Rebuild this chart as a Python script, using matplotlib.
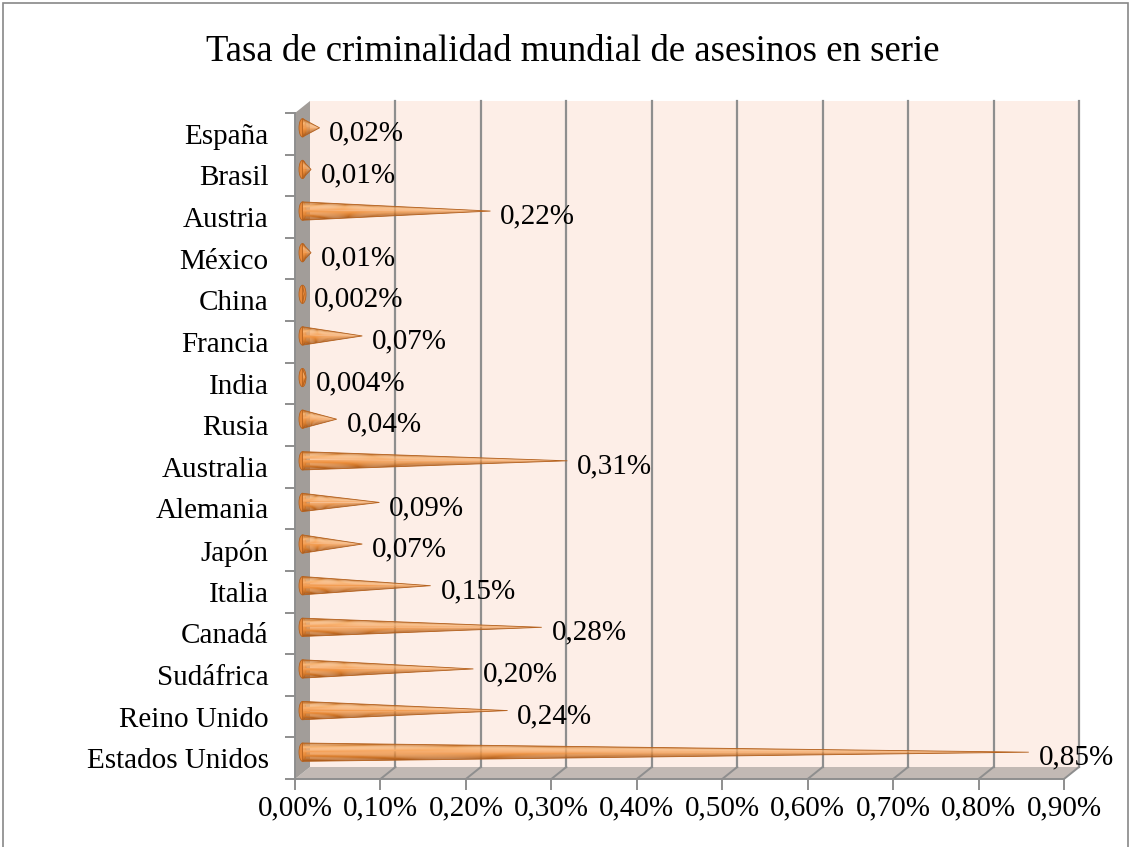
import numpy as np
import matplotlib
matplotlib.use("Agg")
import matplotlib.pyplot as plt
from matplotlib.patches import Polygon, Ellipse, Rectangle
from matplotlib.colors import LinearSegmentedColormap

paises = ["España", "Brasil", "Austria", "México", "China", "Francia", "India",
          "Rusia", "Australia", "Alemania", "Japón", "Italia", "Canadá",
          "Sudáfrica", "Reino Unido", "Estados Unidos"]
tasas = [0.02, 0.01, 0.22, 0.01, 0.002, 0.07, 0.004, 0.04, 0.31, 0.09, 0.07,
         0.15, 0.28, 0.20, 0.24, 0.85]
etiquetas = ["0,02%", "0,01%", "0,22%", "0,01%", "0,002%", "0,07%", "0,004%",
             "0,04%", "0,31%", "0,09%", "0,07%", "0,15%", "0,28%", "0,20%",
             "0,24%", "0,85%"]
xticks = [0.0, 0.1, 0.2, 0.3, 0.4, 0.5, 0.6, 0.7, 0.8, 0.9]
xticklabels = ["0,00%", "0,10%", "0,20%", "0,30%", "0,40%", "0,50%", "0,60%",
               "0,70%", "0,80%", "0,90%"]

plt.rcParams['font.family'] = ['Liberation Serif', 'DejaVu Serif']

W, H = 1131, 847
fig = plt.figure(figsize=(W / 100, H / 100), dpi=100)
fig.patch.set_facecolor('white')

# front plane of the pseudo-3D chart, in pixels
x0, x1, ytop, ybot = 295, 1064, 113, 779
ax = fig.add_axes([x0 / W, 1 - ybot / H, (x1 - x0) / W, (ybot - ytop) / H])
n = len(paises)
xmax = 0.9
ax.set_xlim(0, xmax)
ax.set_ylim(n - 0.5, -0.5)
ax.set_facecolor('none')

# depth offset (15 px right, 12 px up) in data units
px_x = xmax / (x1 - x0)
px_y = n / (ybot - ytop)
DX = 15 * px_x
DY = -12 * px_y

wall_col = '#FDEEE7'
grid_col = '#8E8E8E'
fs = 21

# back wall
ax.add_patch(Rectangle((DX, -0.5 + DY), xmax, n, facecolor=wall_col,
                       edgecolor='none', clip_on=False, zorder=0))
# floor
ax.add_patch(Polygon([(0, n - 0.5), (xmax, n - 0.5), (xmax + DX, n - 0.5 + DY),
                      (DX, n - 0.5 + DY)], closed=True, facecolor='#C2B9B4',
                     edgecolor='none', clip_on=False, zorder=0.5))
# left wall
ax.add_patch(Polygon([(0, -0.5), (0, n - 0.5), (DX, n - 0.5 + DY), (DX, -0.5 + DY)],
                     closed=True, facecolor='#A29D99', edgecolor='none',
                     clip_on=False, zorder=0.5))

for v in xticks[1:]:
    ax.plot([v + DX, v + DX], [-0.5 + DY, n - 0.5 + DY], color=grid_col, lw=1.6,
            clip_on=False, zorder=1)
    ax.plot([v, v + DX], [n - 0.5, n - 0.5 + DY], color=grid_col, lw=1.4,
            clip_on=False, zorder=1)

# cones
cmap = LinearSegmentedColormap.from_list(
    'cono', ['#B9661F', '#F9B97A', '#F7A964', '#EE9140', '#D0772A', '#A5571A'])
hh = 0.22
nstrip = 14
for i, (v, lab) in enumerate(zip(tasas, etiquetas)):
    yc = i + DY / 2
    xb = DX / 2
    xt = v + DX / 2
    edges = np.linspace(yc - hh, yc + hh, nstrip + 1)
    for k in range(nstrip):
        ax.add_patch(Polygon([(xb, edges[k]), (xb, edges[k + 1]), (xt, yc)],
                             closed=True, facecolor=cmap((k + 0.5) / nstrip),
                             edgecolor='none', clip_on=False, zorder=3))
    ax.add_patch(Polygon([(xb, yc - hh), (xb, yc + hh), (xt, yc)], closed=True,
                         facecolor='none', edgecolor='#B5621F', lw=0.6,
                         clip_on=False, zorder=3.5))
    ax.add_patch(Ellipse((xb, yc), 7 * px_x, 2 * hh, facecolor='#E8893A',
                         edgecolor='#B5621F', lw=0.6, clip_on=False, zorder=2.9))
    ax.annotate(lab, (xt, yc), xytext=(7, -4), textcoords='offset points',
                ha='left', va='center', fontsize=fs, zorder=5,
                annotation_clip=False)

# axes
for s in ['top', 'right']:
    ax.spines[s].set_visible(False)
for s in ['left', 'bottom']:
    ax.spines[s].set_color(grid_col)
    ax.spines[s].set_linewidth(1.4)
    ax.spines[s].set_zorder(2)

ax.set_yticks(range(n))
ax.set_yticklabels(paises, fontsize=fs)
ax.set_yticks(np.arange(-0.5, n, 1.0), minor=True)
ax.tick_params(axis='y', which='major', length=0, pad=19)
ax.tick_params(axis='y', which='minor', length=7, width=1.4, color=grid_col)
ax.set_xticks(xticks)
ax.set_xticklabels(xticklabels, fontsize=fs)
ax.tick_params(axis='x', which='major', length=8, width=1.4, color=grid_col, pad=4)

fig.text(573 / W, 1 - 52 / H, "Tasa de criminalidad mundial de asesinos en serie",
         ha='center', va='center', fontsize=26.5)

# outer frame
fig.add_artist(Rectangle((3 / W, -0.01), (W - 6) / W, 1 - 3 / H + 0.01,
                         transform=fig.transFigure, facecolor='none',
                         edgecolor='#888888', lw=1.2))

fig.savefig('out.png', dpi=100)
